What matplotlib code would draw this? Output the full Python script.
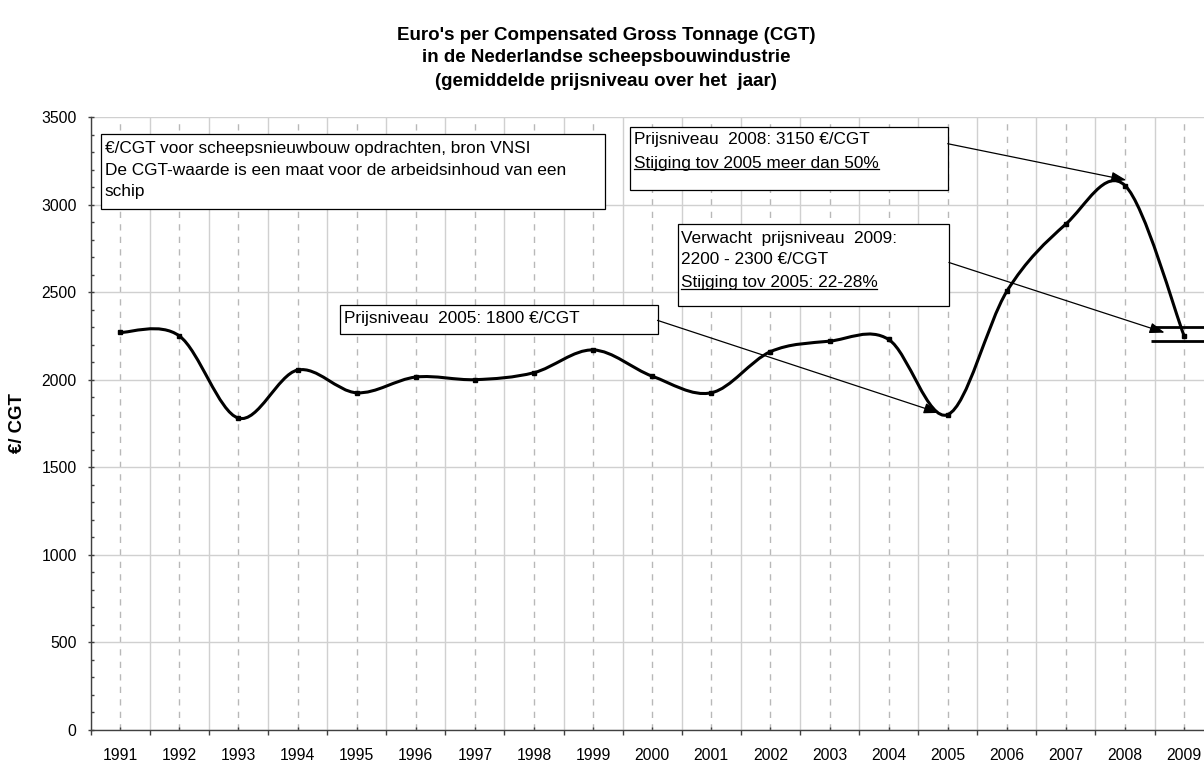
import numpy as np
import matplotlib
matplotlib.use('Agg')
import matplotlib.pyplot as plt
from matplotlib.path import Path
from matplotlib.patches import PathPatch, Rectangle, FancyArrowPatch
from matplotlib.ticker import MultipleLocator, FixedLocator

# data
years = [str(y) for y in range(1991, 2010)]
eur_cgt = [2270, 2250, 1780, 2055, 1925, 2015, 2000, 2040, 2170, 2020,
           1925, 2160, 2220, 2230, 1800, 2505, 2890, 3110, 2250]
band_2009 = [2300, 2220]   # expected range 2009

title_lines = ["Euro's per Compensated Gross Tonnage (CGT)",
               "in de Nederlandse scheepsbouwindustrie",
               "(gemiddelde prijsniveau over het  jaar)"]
ylabel = '€/ CGT'

note_info = ["€/CGT voor scheepsnieuwbouw opdrachten, bron VNSI",
             "De CGT-waarde is een maat voor de arbeidsinhoud van een",
             "schip"]
note_2008 = ["Prijsniveau  2008: 3150 €/CGT",
             "Stijging tov 2005 meer dan 50%"]
note_2009 = ["Verwacht  prijsniveau  2009:",
             "2200 - 2300 €/CGT",
             "Stijging tov 2005: 22-28%"]
note_2005 = ["Prijsniveau  2005: 1800 €/CGT"]

plt.rcParams['font.family'] = ['Liberation Sans', 'DejaVu Sans']

W, H = 1204, 762
fig = plt.figure(figsize=(W/100, H/100), dpi=100)
fig.set_facecolor('white')
ax = fig.add_axes([90.7/W, 32.5/H, 1123/W, 612.2/H])

x = np.arange(len(years), dtype=float)
y = np.array(eur_cgt, dtype=float)

ax.set_xlim(-0.5, len(years) - 0.5)
ax.set_ylim(0, 3500)

# grid: solid at category boundaries, dashed at category centres
ax.xaxis.set_major_locator(FixedLocator(x))
ax.xaxis.set_minor_locator(FixedLocator(np.arange(-0.5, len(years), 1.0)))
ax.set_xticklabels(years)
ax.yaxis.set_major_locator(MultipleLocator(500))
ax.yaxis.set_minor_locator(MultipleLocator(100))

ax.grid(True, which='minor', axis='x', color='#d0d0d0', lw=1.0, ls='-')
ax.grid(True, which='major', axis='x', color='#b8b8b8', lw=1.0, ls=(0, (4.5, 4.5)))
ax.grid(True, which='major', axis='y', color='#d0d0d0', lw=1.0, ls='-')
ax.set_axisbelow(True)

for s in ['top', 'right']:
    ax.spines[s].set_visible(False)
for s in ['left', 'bottom']:
    ax.spines[s].set_color('#404040')
    ax.spines[s].set_linewidth(1.0)

ax.tick_params(axis='x', which='major', direction='in', length=2.2, width=1.0,
               color='#404040', labelsize=11.3, pad=13.5)
ax.tick_params(axis='x', which='minor', direction='out', length=3.3, width=1.0,
               color='#404040')
ax.tick_params(axis='y', which='major', direction='inout', length=4.3, width=1.0,
               color='#404040', labelsize=11.3, pad=7.9)
ax.tick_params(axis='y', which='minor', direction='in', length=2.4, width=1.0,
               color='#404040')

# smoothed line (Excel-like bezier through the points)
px = np.concatenate([[x[0]], x, [x[-1]]])
py = np.concatenate([[y[0]], y, [y[-1]]])
verts = [(x[0], y[0])]
codes = [Path.MOVETO]
for i in range(len(x) - 1):
    c1 = (x[i] + (px[i+2] - px[i]) / 6, y[i] + (py[i+2] - py[i]) / 6)
    c2 = (x[i+1] - (px[i+3] - px[i+1]) / 6, y[i+1] - (py[i+3] - py[i+1]) / 6)
    verts += [c1, c2, (x[i+1], y[i+1])]
    codes += [Path.CURVE4] * 3
ax.add_patch(PathPatch(Path(verts, codes), fill=False, edgecolor='black',
                       lw=2.2, capstyle='round', joinstyle='round', zorder=3))
ax.plot(x, y, 's', ms=3, color='black', zorder=3)

ax.hlines(band_2009, 17.44, 18.5, colors='black', lw=2.0, zorder=3)

fs = 12.45
def box(x0, x1, y0, y1):
    ax.add_patch(Rectangle((x0, y0), x1 - x0, y1 - y0, facecolor='white',
                           edgecolor='black', lw=0.9, zorder=4))

def lines(xt, ys, texts, under=None):
    out = []
    for k, (yy, tt) in enumerate(zip(ys, texts)):
        t = ax.text(xt, yy, tt, fontsize=fs, va='baseline', ha='left', zorder=5)
        if k == under:
            out.append(t)
    return out

underlined = []
box(-0.32, 8.2, 2973, 3405)
lines(-0.265, [3294, 3170, 3051], note_info)

box(8.63, 14.0, 3085, 3445)
underlined += lines(8.69, [3349, 3212], note_2008, under=1)

box(9.44, 14.02, 2423, 2888)
underlined += lines(9.48, [2784, 2661, 2528], note_2009, under=2)

box(3.72, 9.09, 2262, 2425)
lines(3.79, [2323], note_2005)

def arrow(p0, p1):
    ax.add_patch(FancyArrowPatch(p0, p1, arrowstyle='-|>,head_length=0.9,head_width=0.32',
                                 mutation_scale=10, lw=0.9, color='black',
                                 shrinkA=0, shrinkB=0, zorder=6))

arrow((14.0, 3349), (17.02, 3141))
arrow((14.02, 2670), (17.67, 2269))
arrow((9.09, 2339), (13.85, 1810))

# title and y label
for k, tl in enumerate(title_lines):
    fig.text(606 / W, 1 - (35 + 23 * k) / H, tl, ha='center', va='center',
             fontsize=13.5, fontweight='bold')
fig.text(18 / W, 1 - 423 / H, ylabel, rotation=90, ha='center', va='center',
         fontsize=13.4, fontweight='bold')

# underline the marked lines
fig.canvas.draw()
r = fig.canvas.get_renderer()
inv = ax.transData.inverted()
for t in underlined:
    bb = t.get_window_extent(r)
    xe = inv.transform((bb.x1, bb.y0))[0]
    xs, ys = t.get_position()
    ax.plot([xs, xe], [ys - 8, ys - 8], color='black', lw=0.9, zorder=5)

fig.savefig('out.png', dpi=100)
